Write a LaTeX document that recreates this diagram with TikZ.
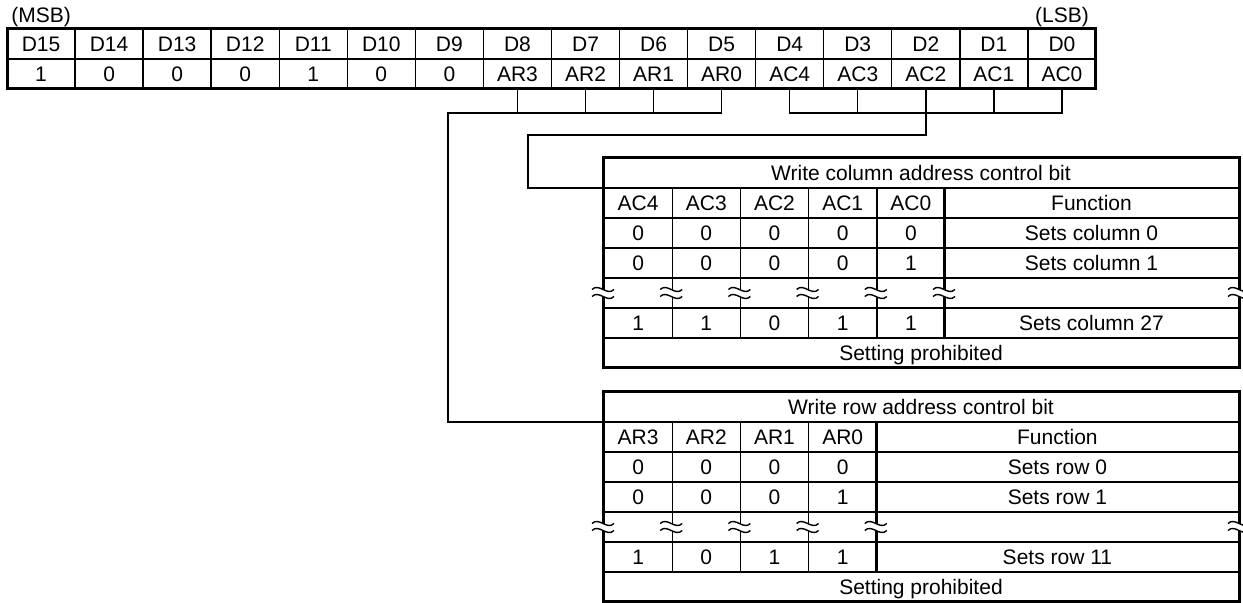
\documentclass[tikz,border=0pt]{standalone}
\usepackage{fontspec}
\setmainfont{Liberation Sans}
\usetikzlibrary{positioning}
\tikzstyle{wire} = [draw, line width=0.7pt]
\tikzstyle{frame} = [draw, line width=1.5pt]
\tikzstyle{lbl} = [inner sep=0pt, font=\fontsize{10.5}{12}\selectfont]
\tikzstyle{cell} = [draw, line width=0.7pt, inner sep=0pt, outer sep=0pt, minimum height=15pt, text height=7.5pt, text depth=0pt, font=\fontsize{10.5}{12}\selectfont]
\tikzstyle{reg} = [cell, minimum width=34.03pt]
\tikzstyle{bit} = [cell, minimum width=34.1pt]

\begin{document}
\begin{tikzpicture}[x=0.5pt, y=-0.5pt, node distance=0pt]
	\useasboundingbox (0,0) rectangle (1243,603);

	% register D15..D0
	\foreach \d [count=\i from 0] in {15,14,...,0}
		\node[reg] (h\i) at ({41.03+68.06*\i},44) {D\d};
	\foreach \v [count=\i from 0] in {1,0,0,0,1,0,0,AR3,AR2,AR1,AR0,AC4,AC3,AC2,AC1,AC0}
		\node[reg] (v\i) at ({41.03+68.06*\i},74) {\v};
	\draw[frame] (h0.north west) rectangle (v15.south east);
	\node[lbl] (msb) [above=1pt of h0] {(MSB)};
	\node[lbl] (lsb) [above=1pt of h15] {(LSB)};

	% column address table
	\node[cell, minimum width=318pt] (ct) at (921,173) {Write column address control bit};
	\foreach \r/\a/\b/\c/\d/\e/\f in {1/AC4/AC3/AC2/AC1/AC0/Function,
			2/0/0/0/0/0/Sets column 0,
			3/0/0/0/0/1/Sets column 1,
			5/1/1/0/1/1/Sets column 27} {
		\foreach \t [count=\k] in {\a,\b,\c,\d,\e}
			\node[bit] (c\r\k) at ({569.9+68.2*\k},{173+30*\r}) {\t};
		\node[cell, minimum width=147.5pt] (cf\r) at (1091.5,{173+30*\r}) {\f};
	}
	\foreach \k in {1,...,5}
		\node[bit] (c4\k) at ({569.9+68.2*\k},293) {};
	\node[cell, minimum width=147.5pt] (cf4) at (1091.5,293) {};
	\node[cell, minimum width=318pt] (cp) at (921,353) {Setting prohibited};
	\draw[frame] (ct.north west) rectangle (cp.south east);

	% row address table
	\node[cell, minimum width=318pt] (rt) at (921,407) {Write row address control bit};
	\foreach \r/\a/\b/\c/\d/\f in {1/AR3/AR2/AR1/AR0/Function,
			2/0/0/0/0/Sets row 0,
			3/0/0/0/1/Sets row 1,
			5/1/0/1/1/Sets row 11} {
		\foreach \t [count=\k] in {\a,\b,\c,\d}
			\node[bit] (r\r\k) at ({569.9+68.2*\k},{407+30*\r}) {\t};
		\node[cell, minimum width=181.6pt] (rf\r) at (1057.4,{407+30*\r}) {\f};
	}
	\foreach \k in {1,...,4}
		\node[bit] (r4\k) at ({569.9+68.2*\k},527) {};
	\node[cell, minimum width=181.6pt] (rf4) at (1057.4,527) {};
	\node[cell, minimum width=318pt] (rp) at (921,587) {Setting prohibited};
	\draw[frame] (rt.north west) rectangle (rp.south east);

	% break marks
	\foreach \x/\y in {603/293, 671.2/293, 739.4/293, 807.6/293, 875.8/293, 944/293, 1239/293,
			603/527, 671.2/527, 739.4/527, 807.6/527, 875.8/527, 1239/527} {
		\fill[white] ({\x-11},{\y-3.5}) .. controls ({\x-4},{\y-10.5}) and ({\x+4},{\y+3.5}) .. ({\x+11},{\y-3.5})
			-- ({\x+11},{\y+3.5}) .. controls ({\x+4},{\y+10.5}) and ({\x-4},{\y-3.5}) .. ({\x-11},{\y+3.5}) -- cycle;
		\path[wire] ({\x-11},{\y-3.5}) .. controls ({\x-4},{\y-10.5}) and ({\x+4},{\y+3.5}) .. ({\x+11},{\y-3.5});
		\path[wire] ({\x-11},{\y+3.5}) .. controls ({\x-4},{\y-3.5}) and ({\x+4},{\y+10.5}) .. ({\x+11},{\y+3.5});
	}

	% connectors
	\coordinate (rbend) at (448,113);
	\coordinate (cbend) at (528,135);
	\foreach \i in {7,8,9,12,14}
		\path[wire] (v\i.south) -- ++(0,24);
	\path[wire] (v11.south) -- ++(0,24) -| (v15.south);
	\path[wire] (v10.south) |- (rbend) |- (rt.south west);
	\path[wire] (v13.south) |- (cbend) |- (ct.south west);
\end{tikzpicture}
\end{document}
